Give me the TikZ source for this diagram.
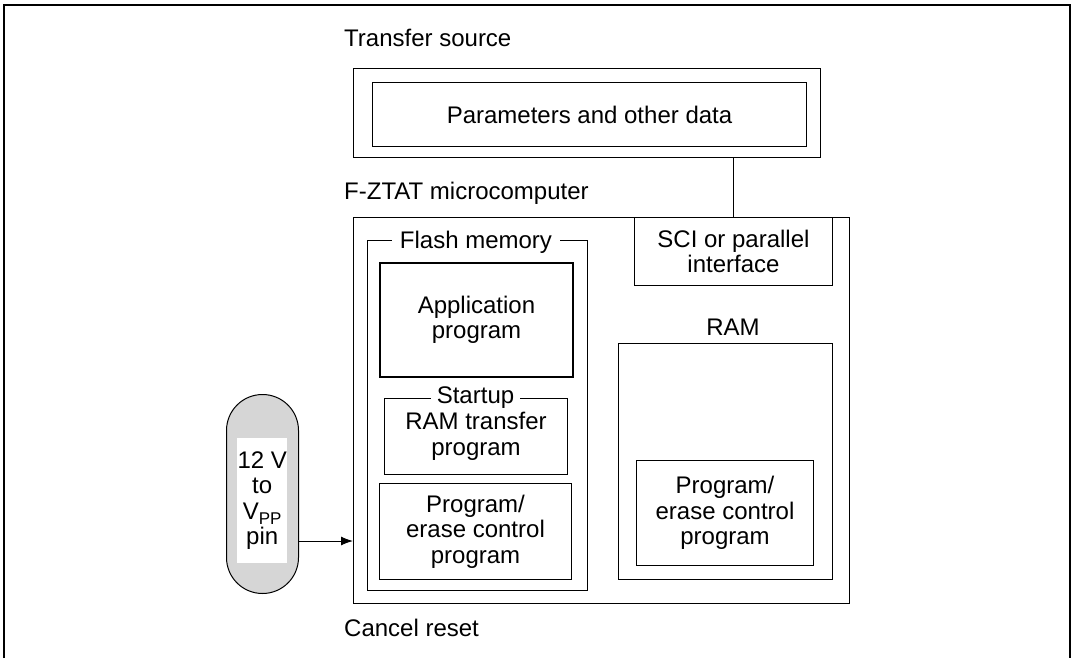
\documentclass[tikz,border=0pt]{standalone}
\usepackage{fontspec}
\setmainfont{Liberation Sans}
\usetikzlibrary{arrows.meta}
\tikzset{
  box/.style={draw, line width=1pt, inner sep=0pt, anchor=north west, align=center,
    font=\fontsize{24}{25.5}\selectfont},
  lbl/.style={inner sep=0pt, font=\fontsize{24}{25.5}\selectfont},
  gaplbl/.style={fill=white, inner xsep=8pt, inner ysep=0pt, font=\fontsize{24}{25.5}\selectfont},
  conn/.style={line width=1pt},
}
\begin{document}
\begin{tikzpicture}[x=1pt,y=-1pt]
\useasboundingbox (0,0) rectangle (1075,658);
% outer frame
\draw[line width=2pt] (4,658) -- (4,5) -- (1070,5) -- (1070,658);
% transfer source
\node[lbl, anchor=west] (tslbl) at (344,38) {Transfer source};
\node[box, minimum width=467pt, minimum height=89pt] (src) at (353,68) {};
\node[box, minimum width=434pt, minimum height=64pt] (par) at (372,82) {Parameters and other data};
% microcomputer
\node[lbl, anchor=west] (mclbl) at (344,193) {F-ZTAT microcomputer};
\node[box, line width=1.3pt, minimum width=496pt, minimum height=386pt] (mc) at (353,217) {};
% flash memory
\node[box, minimum width=220pt, minimum height=350pt] (flash) at (367,240) {};
\node[gaplbl] (flashlbl) at (476,242) {Flash memory};
\node[box, line width=2pt, minimum width=193pt, minimum height=114pt] (app) at (379,262) {Application\\program};
\node[box, minimum width=183pt, minimum height=76pt] (start) at (384,398) {\rule{0pt}{8pt}RAM transfer\\program};
\node[gaplbl, inner xsep=6pt] (startlbl) at (475.5,398) {Startup};
\node[box, minimum width=192pt, minimum height=96pt] (fpec) at (379,483) {Program/\\erase control\\program};
% SCI
\node[box, minimum width=198pt, minimum height=68pt] (sci) at (634,217) {SCI or parallel\\interface};
% RAM
\node[lbl] (ramlbl) at (733,327) {RAM};
\node[box, minimum width=214pt, minimum height=236pt] (ram) at (618,343) {};
\node[box, minimum width=177pt, minimum height=105pt] (rpec) at (636,460) {Program/\\erase control\\program};
% connector
\draw[conn] (sci.north) -- (src.south -| sci.north);
% pill
\node[draw, line width=1pt, fill={rgb,255:red,214;green,214;blue,214}, rounded corners=36pt,
  minimum width=72pt, minimum height=199pt, anchor=north west, inner sep=0pt] (pill) at (226,394) {};
\node[fill=white, minimum width=50pt, minimum height=125pt, inner sep=0pt, anchor=north west,
  align=center, font=\fontsize{24}{25.5}\selectfont] (vpp) at (237,438)
  {12 V\\to\\V\raisebox{-0.2em}{\fontsize{17}{17}\selectfont PP}\\pin};
\coordinate (arrowy) at (298,541);
\draw[conn, -{Latex[length=12pt,width=9pt]}] (arrowy) -- (arrowy -| mc.west);
% cancel reset
\node[lbl, anchor=west] (cancel) at (344,628) {Cancel reset};
\end{tikzpicture}
\end{document}
